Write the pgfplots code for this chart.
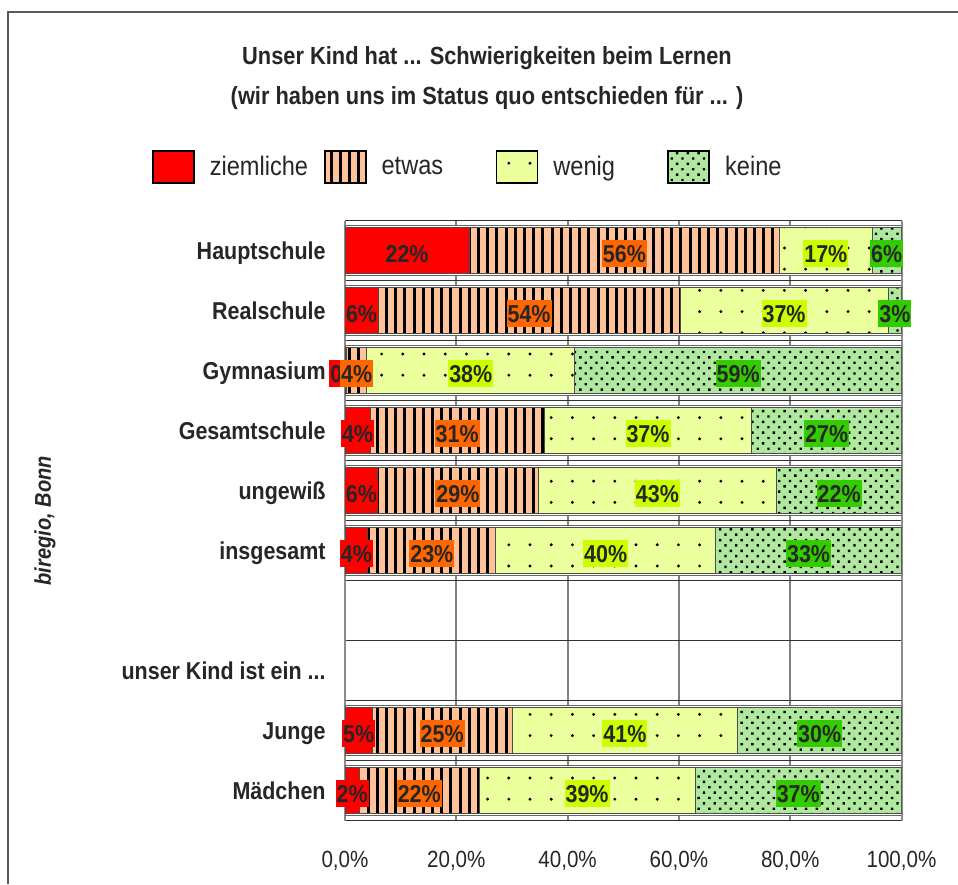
\documentclass[border=0pt]{standalone}
\usepackage{fontspec}
\setmainfont{Liberation Sans}[FakeStretch=0.88]
\usepackage{pgfplots}
\usepackage{pgfplotstable}
\pgfplotsset{compat=1.18}
\usetikzlibrary{patterns.meta}

\definecolor{cRed}{HTML}{FF0000}
\definecolor{cEtwas}{HTML}{FFC299}
\definecolor{cWenig}{HTML}{EBFF9C}
\definecolor{cKeine}{HTML}{B0E8A0}
\definecolor{lRed}{HTML}{FF0000}
\definecolor{lEtwas}{HTML}{FF6600}
\definecolor{lWenig}{HTML}{CCFF00}
\definecolor{lKeine}{HTML}{33CC00}
\definecolor{txt}{HTML}{262626}
\protected\def\threedots{.\kern0pt.\kern0pt.}

% values (row: 9 = Hauptschule ... 0 = Maedchen)
\pgfplotstableread{
r v
9 22.3
8 5.95
7 0.3
6 4.5
5 5.9
4 4.1
1 4.9
0 2.6
}\dRed
\pgfplotstableread{
r v
9 55.8
8 54.25
7 3.6
6 31.3
5 28.8
4 23.0
1 25.1
0 21.5
}\dEtwas
\pgfplotstableread{
r v
9 16.6
8 37.4
7 37.4
6 37.3
5 42.9
4 39.5
1 40.6
0 38.8
}\dWenig
\pgfplotstableread{
r v
9 5.3
8 2.4
7 58.7
6 26.9
5 22.4
4 33.4
1 29.4
0 37.1
}\dKeine

% label positions (segment centres) and label numbers
\pgfplotstableread{
x y m
11.15 9 22
2.975 8 6
0.15 7 0
2.25 6 4
2.95 5 6
2.05 4 4
2.45 1 5
1.3 0 2
}\lbRed
\pgfplotstableread{
x y m
50.2 9 56
33.075 8 54
2.1 7 4
20.15 6 31
20.3 5 29
15.6 4 23
17.45 1 25
13.35 0 22
}\lbEtwas
\pgfplotstableread{
x y m
86.4 9 17
78.9 8 37
22.6 7 38
54.45 6 37
56.15 5 43
46.85 4 40
50.3 1 41
43.5 0 39
}\lbWenig
\pgfplotstableread{
x y m
97.35 9 6
98.8 8 3
70.65 7 59
86.55 6 27
88.8 5 22
83.3 4 33
85.3 1 30
81.45 0 37
}\lbKeine

\pgfplotsset{
  base/.style={scale only axis, width=278.25pt, height=300pt,
    at={(172.5pt,31.65pt)}, anchor=south west,
    xmin=0, xmax=100, ymin=-0.5, ymax=9.5},
  legimg/.style={legend image code/.code={\draw[##1, draw=black, line width=0.9pt] (0pt,-8pt) rectangle (20.5pt,8pt);}},
  lab/.style={only marks, mark=none, nodes near coords={\pgfplotspointmeta\%},
    point meta=explicit symbolic,
    every node near coord/.append style={anchor=center, fill=#1, text=txt,
      font=\bfseries\fontsize{12.2}{13}\selectfont,
      text height=8.7pt, text depth=0pt, inner xsep=0.5pt, inner ysep=2.3pt, yshift=-1.5pt}},
}

\begin{document}
\begin{tikzpicture}
\useasboundingbox (0,0) rectangle (479pt,442pt);
\draw[line width=1pt, color=black!65] (3.75pt,0) -- (3.75pt,436pt) -- (479pt,436pt);

\node[font=\bfseries\fontsize{12.4}{14}\selectfont, text=txt] at (243.5pt,413pt) {Unser Kind hat \threedots{} Schwierigkeiten beim Lernen};
\node[font=\bfseries\fontsize{12.4}{14}\selectfont, text=txt] at (243.5pt,393pt) {(wir haben uns im Status quo entschieden für \threedots{} )};

% background: grid, ticks, labels, white row boxes
\begin{axis}[base,
  xtick={0,20,40,60,80,100},
  xticklabels={{0,0\%},{20,0\%},{40,0\%},{60,0\%},{80,0\%},{100,0\%}},
  ytick={0,1,2,3,4,5,6,7,8,9},
  yticklabels={Mädchen,Junge,{unser Kind ist ein \threedots},{},insgesamt,ungewiß,Gesamtschule,Gymnasium,Realschule,Hauptschule},
  minor ytick={-0.5,0.5,1.5,2.5,3.5,4.5,5.5,6.5,7.5,8.5,9.5},
  xmajorgrids, yminorgrids,
  major grid style={color=black!50, line width=1pt},
  minor grid style={color=black!80, line width=0.5pt},
  major tick length=0pt, minor tick length=0pt,
  separate axis lines,
  x axis line style={draw=black!80, line width=0.5pt},
  y axis line style={draw=black!45, line width=1pt},
  xticklabel style={anchor=base, inner sep=0pt, yshift=-23.35pt, text=txt, font=\fontsize{11.7}{13}\selectfont},
  yticklabel style={anchor=base east, inner sep=0pt, xshift=-9.5pt, yshift=-4.4pt, text=txt, font=\bfseries\fontsize{12.2}{14}\selectfont},
  ylabel={biregio, Bonn},
  every axis y label/.style={at={(axis description cs:-0.539,0.5)}, rotate=90, anchor=center, text=txt, font=\bfseries\itshape\fontsize{11.4}{13}\selectfont},
]
\addplot[xbar, bar width=25pt, fill=white, draw=black!60, line width=0.4pt]
  coordinates {(100,9) (100,8) (100,7) (100,6) (100,5) (100,4) (100,1) (100,0)};
\end{axis}

% stacked bars and legend
\begin{axis}[base, hide axis, xbar stacked, bar width=23pt,
  legend columns=4,
  legend style={draw=none, fill=none, at={(axis description cs:0,1)}, anchor=west,
    xshift=-96.5pt, yshift=26.85pt, inner sep=0pt, outer sep=0pt,
    font=\fontsize{13.4}{15}\selectfont, text=txt,
    cells={anchor=west, inner sep=0pt},
    /tikz/every odd column/.append style={column sep=5.5pt},
    /tikz/every even column/.append style={column sep=5pt}},
]
\addplot[fill=cRed, draw=black!70, line width=0.4pt, legimg] table[x=v,y=r] {\dRed};
\addlegendentry{\makebox[50pt][l]{ziemliche}}
\addplot[fill=cEtwas, draw=black!70, line width=0.4pt, legimg,
  postaction={pattern={Lines[angle=90,distance=4.6pt,line width=1.5pt]},pattern color=black}] table[x=v,y=r] {\dEtwas};
\addlegendentry{\makebox[50pt][l]{etwas}}
\addplot[fill=cWenig, draw=black!70, line width=0.4pt, legimg,
  postaction={pattern={Dots[distance=10.6pt,radius=0.8pt]},pattern color=black}] table[x=v,y=r] {\dWenig};
\addlegendentry{\makebox[50pt][l]{wenig}}
\addplot[fill=cKeine, draw=black!70, line width=0.4pt, legimg,
  postaction={pattern={Dots[distance=3.8pt,angle=45,radius=0.85pt]},pattern color=black}] table[x=v,y=r] {\dKeine};
\addlegendentry{\makebox[50pt][l]{keine}}
\end{axis}

% value labels
\begin{axis}[base, hide axis, clip=false]
\addplot[lab=lRed] table[x=x,y=y,meta=m] {\lbRed};
\addplot[lab=lEtwas] table[x=x,y=y,meta=m] {\lbEtwas};
\addplot[lab=lWenig] table[x=x,y=y,meta=m] {\lbWenig};
\addplot[lab=lKeine] table[x=x,y=y,meta=m] {\lbKeine};
\end{axis}
\end{tikzpicture}
\end{document}
